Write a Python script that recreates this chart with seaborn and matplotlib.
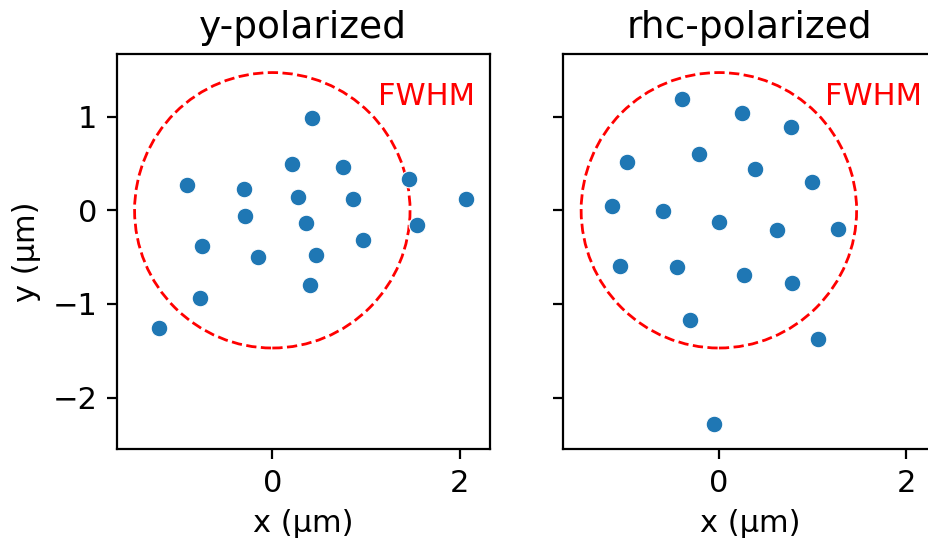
import numpy as np
import pandas as pd
import matplotlib
matplotlib.use("Agg")
import matplotlib.pyplot as plt
from matplotlib.patches import Circle
import seaborn as sns

# Spot positions (µm) for each polarization
y_pol_x = [0.427, 0.213, 0.758, 1.459, -0.910, -0.302, 0.271, 0.861, 2.064, -0.295,
           0.356, 1.541, 0.968, -0.753, -0.149, 0.463, 0.402, -0.768, -1.212]
y_pol_y = [0.985, 0.494, 0.459, 0.331, 0.267, 0.227, 0.142, 0.124, 0.121, -0.058,
           -0.132, -0.157, -0.314, -0.384, -0.502, -0.480, -0.794, -0.939, -1.256]

rhc_pol_x = [-0.391, 0.242, 0.768, -0.984, -0.213, 0.381, 0.991, -1.137, -0.601, -0.004,
             0.622, 1.272, -1.059, -0.444, 0.270, 0.778, -0.306, 1.063, -0.053]
rhc_pol_y = [1.185, 1.035, 0.886, 0.512, 0.604, 0.437, 0.305, 0.046, -0.007, -0.121,
             -0.214, -0.203, -0.598, -0.605, -0.694, -0.776, -1.171, -1.374, -2.284]

panel_titles = ["y-polarized", "rhc-polarized"]
fwhm_radius = 1.47
x_ticks = [0, 2]
y_ticks = [-2, -1, 0, 1]

df = pd.concat([
    pd.DataFrame({"x": y_pol_x, "y": y_pol_y, "panel": panel_titles[0]}),
    pd.DataFrame({"x": rhc_pol_x, "y": rhc_pol_y, "panel": panel_titles[1]}),
])

plt.rcParams["font.size"] = 11
plt.rcParams["font.family"] = ["DejaVu Sans"]

fig = plt.figure(figsize=(4.645, 2.69), dpi=200)
ax_l = fig.add_axes([0.1256, 0.1649, 0.4018, 0.7342])
ax_r = fig.add_axes([0.6063, 0.1649, 0.4018, 0.7342], sharey=ax_l)

for ax, title in zip([ax_l, ax_r], panel_titles):
    sub = df[df["panel"] == title]
    sns.scatterplot(data=sub, x="x", y="y", ax=ax, color="#1f77b4", s=36,
                    edgecolor="white", linewidth=0.4, zorder=3)
    ax.add_patch(Circle((0, 0), fwhm_radius, fill=False, edgecolor="red",
                        linestyle="--", linewidth=1.0, zorder=2))
    ax.text(0.96, 0.93, "FWHM", color="red", ha="right", va="top",
            transform=ax.transAxes)
    ax.set_title(title, fontsize=13.5)
    ax.set_xlim(-1.661, 2.323)
    ax.set_ylim(-2.551, 1.665)
    ax.set_xticks(x_ticks)
    ax.set_yticks(y_ticks)
    ax.set_xlabel("x (µm)")
    ax.set_ylabel("")

ax_l.set_ylabel("y (µm)")
ax_r.tick_params(labelleft=False)

fig.savefig("out.png", dpi=200)
